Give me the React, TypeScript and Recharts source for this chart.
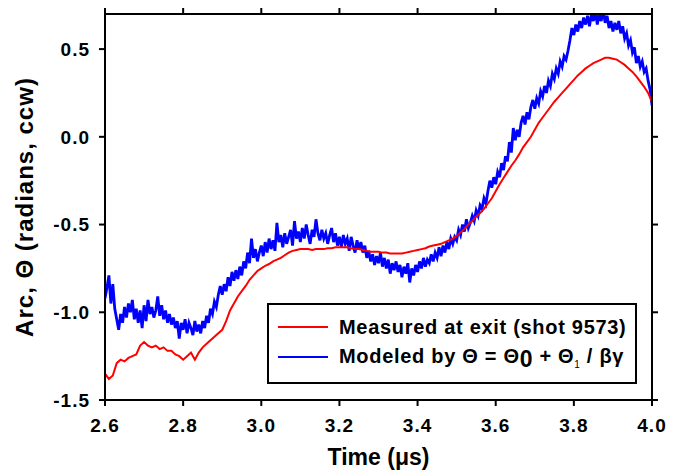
import React from "react";
import { LineChart, Line, XAxis, YAxis } from "recharts";

// sampled every 0.01 µs from 2.60 to 4.00
const MEASURED = [
  -1.35, -1.38, -1.36, -1.29, -1.27, -1.28, -1.26, -1.25, -1.24, -1.19,
  -1.17, -1.19, -1.2, -1.19, -1.21, -1.2, -1.22, -1.22, -1.24, -1.25,
  -1.27, -1.25, -1.23, -1.27, -1.23, -1.2, -1.18, -1.16, -1.14, -1.12,
  -1.1, -1.05, -0.99, -0.95, -0.91, -0.88, -0.85, -0.815, -0.79, -0.765,
  -0.75, -0.735, -0.725, -0.71, -0.7, -0.69, -0.675, -0.66, -0.65, -0.645,
  -0.64, -0.64, -0.64, -0.645, -0.64, -0.64, -0.64, -0.635, -0.635, -0.63,
  -0.63, -0.63, -0.63, -0.635, -0.64, -0.64, -0.645, -0.65, -0.655, -0.655,
  -0.655, -0.66, -0.66, -0.665, -0.665, -0.665, -0.665, -0.66, -0.655, -0.65,
  -0.645, -0.64, -0.635, -0.625, -0.62, -0.615, -0.61, -0.6, -0.59, -0.58,
  -0.565, -0.545, -0.525, -0.5, -0.48, -0.455, -0.435, -0.41, -0.38, -0.35,
  -0.31, -0.27, -0.235, -0.2, -0.165, -0.135, -0.1, -0.06, -0.03, 0.0,
  0.04, 0.08, 0.11, 0.14, 0.17, 0.2, 0.225, 0.25, 0.275, 0.3,
  0.325, 0.35, 0.37, 0.39, 0.405, 0.42, 0.43, 0.44, 0.45, 0.45,
  0.445, 0.44, 0.425, 0.41, 0.39, 0.37, 0.345, 0.315, 0.285, 0.25,
  0.2,
];

// sampled every 0.005 µs from 2.60 to 4.00
const MODELED = [
  -0.92, -0.86, -0.79, -0.95, -0.84, -0.98, -1.04, -1.1, -1.01, -1.06,
  -0.97, -1.03, -0.95, -1.0, -0.93, -1.04, -0.98, -1.06, -0.99, -1.09,
  -0.96, -1.05, -0.93, -1.01, -0.97, -1.03, -0.99, -0.91, -1.02, -0.96,
  -1.04, -0.99, -1.06, -1.01, -1.07, -1.03, -1.09, -1.05, -1.15, -1.06,
  -1.1, -1.04, -1.12, -1.06, -1.09, -1.13, -1.05, -1.11, -1.07, -1.12,
  -1.05, -1.09, -1.02, -1.06, -0.98, -1.01, -0.94, -0.97, -0.9, -0.85,
  -0.9, -0.84, -0.88, -0.8, -0.85, -0.77, -0.82, -0.76, -0.81, -0.74,
  -0.79, -0.71, -0.75, -0.66, -0.72, -0.58, -0.69, -0.64, -0.71, -0.66,
  -0.62, -0.68, -0.6, -0.66, -0.58, -0.64, -0.59, -0.65, -0.49, -0.6,
  -0.56, -0.63, -0.55, -0.61, -0.57, -0.53, -0.62, -0.48, -0.58, -0.54,
  -0.6, -0.52, -0.58, -0.5, -0.56, -0.61, -0.53, -0.57, -0.47, -0.55,
  -0.59, -0.53, -0.58, -0.55, -0.61, -0.56, -0.52, -0.6, -0.55, -0.62,
  -0.57, -0.63, -0.56, -0.61, -0.58, -0.65, -0.57, -0.62, -0.66, -0.59,
  -0.64, -0.6, -0.66, -0.62, -0.69, -0.65, -0.71, -0.67, -0.73, -0.68,
  -0.72, -0.66, -0.74, -0.69, -0.75, -0.7, -0.78, -0.72, -0.76, -0.71,
  -0.77, -0.73, -0.8, -0.74, -0.78, -0.72, -0.83, -0.75, -0.79, -0.73,
  -0.77, -0.71, -0.75, -0.69, -0.74, -0.7, -0.72, -0.67, -0.71, -0.66,
  -0.69, -0.63, -0.68, -0.62, -0.66, -0.6, -0.64, -0.58, -0.61, -0.57,
  -0.59, -0.53, -0.56, -0.5, -0.54, -0.47, -0.52, -0.49, -0.45, -0.48,
  -0.42, -0.45, -0.39, -0.41, -0.35, -0.38, -0.31, -0.25, -0.29, -0.23,
  -0.27, -0.2, -0.23, -0.15, -0.19, -0.11, -0.14, -0.03, -0.09, 0.05,
  -0.02, 0.04, 0.0, 0.08, 0.12, 0.07, 0.14, 0.1, 0.17, 0.21,
  0.16, 0.22, 0.19, 0.26, 0.23, 0.29, 0.25, 0.32, 0.29, 0.36,
  0.33, 0.39, 0.36, 0.43, 0.4, 0.46, 0.44, 0.49, 0.55, 0.62,
  0.58, 0.64, 0.6, 0.66, 0.62, 0.68, 0.64, 0.69, 0.63, 0.7,
  0.66, 0.72, 0.64, 0.7, 0.66, 0.73, 0.65, 0.69, 0.62, 0.66,
  0.6, 0.65, 0.61, 0.66, 0.59, 0.63, 0.56, 0.59, 0.52, 0.55,
  0.48, 0.51, 0.42, 0.46, 0.4, 0.43, 0.37, 0.39, 0.32, 0.27,
  0.18,
];

const X_TICKS = [2.6, 2.8, 3.0, 3.2, 3.4, 3.6, 3.8, 4.0];
const Y_TICKS = [-1.5, -1.0, -0.5, 0.0, 0.5];

const T0 = 2.6;
const FONT = '"Liberation Sans", Arial, sans-serif';

const measuredData = MEASURED.map((v, i) => ({ t: T0 + i * 0.01, v }));
const modeledData = MODELED.map((v, i) => ({ t: T0 + i * 0.005, v }));

const tickStyle = {
  fill: "#000",
  fontSize: 19,
  fontWeight: 700,
  fontFamily: FONT,
  letterSpacing: 1,
};
const lineStyle = { stroke: "#000", strokeWidth: 2 };
const NoLabel = () => <g />;

function XTitle({ viewBox }: any) {
  return (
    <text
      x={viewBox.x + viewBox.width / 2}
      y={465}
      textAnchor="middle"
      fontSize={23}
      fontWeight={700}
      fontFamily={FONT}
      fill="#000"
    >
      Time (μs)
    </text>
  );
}

function YTitle({ viewBox }: any) {
  const cy = viewBox.y + viewBox.height / 2;
  return (
    <text
      x={33}
      y={cy}
      transform={`rotate(-90, 33, ${cy})`}
      textAnchor="middle"
      fontSize={24}
      fontWeight={700}
      fontFamily={FONT}
      letterSpacing={1}
      fill="#000"
    >
      Arc, Θ (radians, ccw)
    </text>
  );
}

function LegendBox() {
  const row = {
    position: "absolute" as const,
    left: 9,
    height: 22,
    display: "flex",
    alignItems: "center",
    whiteSpace: "nowrap" as const,
  };
  const text = {
    marginLeft: 11,
    fontSize: 20,
    fontWeight: 700,
    fontFamily: FONT,
    letterSpacing: 0.7,
    lineHeight: "22px",
  };
  return (
    <div
      style={{
        position: "absolute",
        left: 267,
        top: 303,
        width: 370,
        height: 81,
        boxSizing: "border-box",
        border: "2px solid #000",
        background: "#fff",
      }}
    >
      <div style={{ ...row, top: 11 }}>
        <span style={{ width: 50, height: 2, background: "#ff0000" }} />
        <span style={text}>Measured at exit (shot 9573)</span>
      </div>
      <div style={{ ...row, top: 41 }}>
        <span style={{ width: 50, height: 2, background: "#0000ff" }} />
        <span style={text}>
          Modeled by Θ = Θ
          <span style={{ fontSize: 23, position: "relative", top: 4 }}>0</span>
          {" + Θ"}
          <span style={{ fontSize: 10, fontWeight: 400, position: "relative", top: 5 }}>1</span>
          {" / βγ"}
        </span>
      </div>
    </div>
  );
}

export default function App() {
  return (
    <div style={{ position: "absolute", left: 0, top: 0, width: 681, height: 472, background: "#fff" }}>
      <LineChart width={681} height={472} margin={{ top: 0, right: 0, bottom: 0, left: 0 }}>
        <XAxis
          dataKey="t"
          type="number"
          domain={[2.6, 4.0]}
          ticks={X_TICKS}
          tickFormatter={(v: number) => v.toFixed(1)}
          height={72}
          tickSize={6}
          tickMargin={13}
          axisLine={lineStyle}
          tickLine={lineStyle}
          tick={tickStyle}
          allowDataOverflow
          label={(p: any) => <XTitle viewBox={p.viewBox} />}
        />
        <XAxis
          xAxisId="top"
          orientation="top"
          dataKey="t"
          type="number"
          domain={[2.6, 4.0]}
          ticks={X_TICKS}
          height={14}
          tickSize={6}
          axisLine={lineStyle}
          tickLine={lineStyle}
          tick={NoLabel}
          allowDataOverflow
        />
        <YAxis
          type="number"
          domain={[-1.5, 0.7]}
          ticks={Y_TICKS}
          tickFormatter={(v: number) => v.toFixed(1)}
          width={105}
          tickSize={6}
          tickMargin={9}
          axisLine={lineStyle}
          tickLine={lineStyle}
          tick={tickStyle}
          allowDataOverflow
          label={(p: any) => <YTitle viewBox={p.viewBox} />}
        />
        <YAxis
          yAxisId="right"
          orientation="right"
          type="number"
          domain={[-1.5, 0.7]}
          ticks={Y_TICKS}
          width={29}
          tickSize={6}
          axisLine={lineStyle}
          tickLine={lineStyle}
          tick={NoLabel}
          allowDataOverflow
        />
        {/* invisible series so the mirrored top/right axes get drawn */}
        <Line
          xAxisId="top"
          yAxisId="right"
          data={measuredData}
          dataKey="v"
          stroke="none"
          dot={false}
          activeDot={false}
          legendType="none"
          isAnimationActive={false}
        />
        <Line
          data={modeledData}
          dataKey="v"
          type="linear"
          stroke="#0000ff"
          strokeWidth={2.8}
          dot={false}
          activeDot={false}
          isAnimationActive={false}
        />
        <Line
          data={measuredData}
          dataKey="v"
          type="linear"
          stroke="#ff0000"
          strokeWidth={2}
          dot={false}
          activeDot={false}
          isAnimationActive={false}
        />
      </LineChart>
      <LegendBox />
    </div>
  );
}
